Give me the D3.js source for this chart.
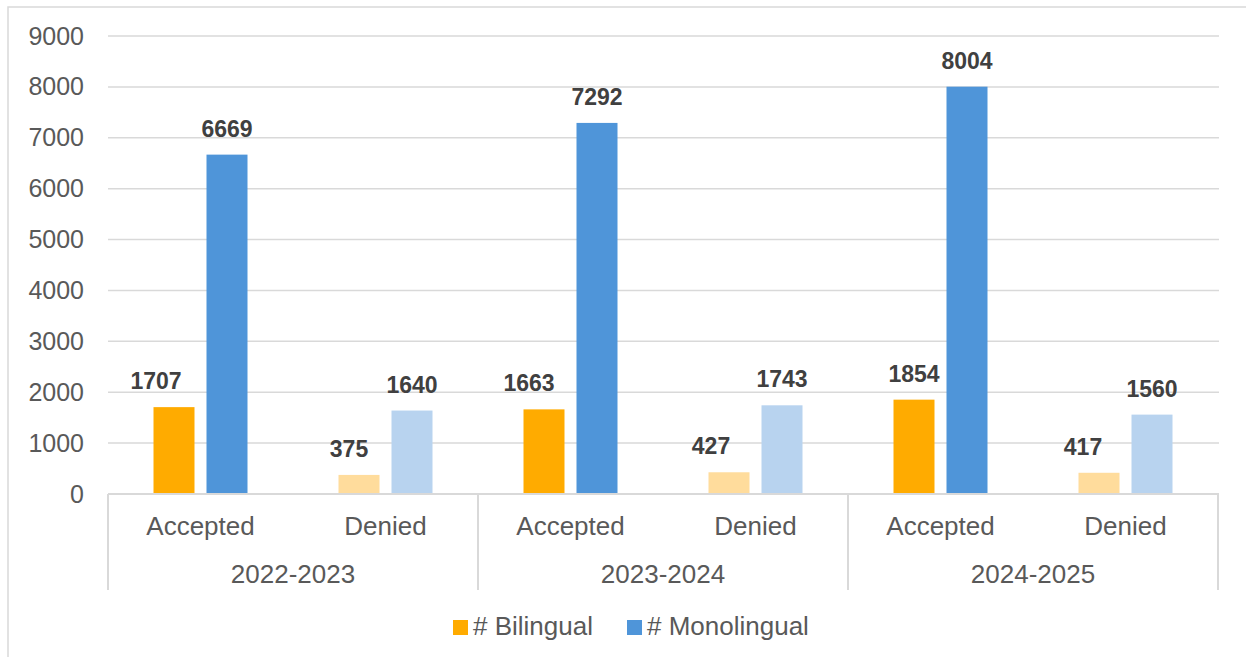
<!DOCTYPE html>
<html>
<head>
<meta charset="utf-8">
<script src="https://cdn.jsdelivr.net/npm/d3@7"></script>
<style>
  html, body { margin: 0; padding: 0; background: #fff; }
  svg { display: block; font-family: Arial, "Liberation Sans", sans-serif; }
</style>
</head>
<body>
<svg id="chart" width="1246" height="657"></svg>
<script>
// ---- data ----
const years = ["2022-2023", "2023-2024", "2024-2025"];
const statuses = ["Accepted", "Denied"];
const series = ["# Bilingual", "# Monolingual"];
// values per year: [Accepted, Denied]
const bilingual = [[1707, 375], [1663, 427], [1854, 417]];
const monolingual = [[6669, 1640], [7292, 1743], [8004, 1560]];
const yTicks = [0, 1000, 2000, 3000, 4000, 5000, 6000, 7000, 8000, 9000];

// ---- styling / layout ----
const colors = {
  "# Bilingual": { Accepted: "#FFAB00", Denied: "#FFDC9C" },
  "# Monolingual": { Accepted: "#4F95D9", Denied: "#B8D3EF" }
};
const legendColors = { "# Bilingual": "#FFAB00", "# Monolingual": "#4F95D9" };
// Excel-style label nudges for the bilingual labels (px), indexed [year][status]
const bilLabelNudge = [[-18, -10], [-15, -18], [0, -16]];

const svg = d3.select("#chart");
const plotLeft = 108, plotRight = 1218, plotTop = 36, plotBottom = 494;

// outer chart border (cropped on right/bottom)
svg.append("path")
  .attr("d", `M8,660 L8,7 L1250,7`)
  .attr("fill", "none").attr("stroke", "#D9D9D9").attr("stroke-width", 1.5);

const y = d3.scaleLinear().domain([0, 9000]).range([plotBottom, plotTop]);

const cats = [];
years.forEach((yr, yi) => statuses.forEach((st, si) => cats.push({ yr, yi, st, si, key: yr + "|" + st })));

const x = d3.scaleBand().domain(cats.map(c => c.key)).range([plotLeft, plotRight]).padding(0);
const xGroup = d3.scaleBand().domain(years).range([plotLeft, plotRight]).padding(0);
const xSub = d3.scaleBand().domain(series).range([0, x.bandwidth()])
  .paddingInner(12 / 53).paddingOuter(0.8585);

// gridlines
svg.append("g").selectAll("line").data(yTicks.filter(t => t > 0)).join("line")
  .attr("x1", plotLeft).attr("x2", plotRight + 1)
  .attr("y1", d => y(d)).attr("y2", d => y(d))
  .attr("stroke", "#D9D9D9").attr("stroke-width", 1.5);

// y axis labels via d3 axis
const yAxis = svg.append("g").attr("transform", `translate(${plotLeft},0)`)
  .call(d3.axisLeft(y).tickValues(yTicks).tickFormat(d3.format("d")).tickSize(0).tickPadding(24));
yAxis.select(".domain").remove();
yAxis.selectAll("text")
  .attr("font-size", 25).attr("fill", "#595959")
  .attr("font-family", "Arial, 'Liberation Sans', sans-serif");

// bars
const barData = [];
cats.forEach(c => {
  barData.push({ c, s: series[0], v: bilingual[c.yi][c.si] });
  barData.push({ c, s: series[1], v: monolingual[c.yi][c.si] });
});

svg.append("g").selectAll("rect").data(barData).join("rect")
  .attr("x", d => x(d.c.key) + xSub(d.s))
  .attr("width", xSub.bandwidth())
  .attr("y", d => y(d.v))
  .attr("height", d => y(0) - y(d.v))
  .attr("fill", d => colors[d.s][d.c.st]);

// data labels
svg.append("g").selectAll("text").data(barData).join("text")
  .attr("x", d => x(d.c.key) + xSub(d.s) + xSub.bandwidth() / 2 +
      (d.s === series[0] ? bilLabelNudge[d.c.yi][d.c.si] : 0))
  .attr("y", d => y(d.v) - 18)
  .attr("text-anchor", "middle")
  .attr("font-size", 23).attr("font-weight", "bold").attr("fill", "#404040")
  .text(d => d.v);

// x axis baseline
svg.append("line")
  .attr("x1", plotLeft).attr("x2", plotRight + 1).attr("y1", plotBottom).attr("y2", plotBottom)
  .attr("stroke", "#D9D9D9").attr("stroke-width", 2);

// group separator lines
const seps = years.map(yr => xGroup(yr)).concat([plotRight]);
svg.append("g").selectAll("line").data(seps).join("line")
  .attr("x1", d => d).attr("x2", d => d)
  .attr("y1", plotBottom).attr("y2", 590)
  .attr("stroke", "#D9D9D9").attr("stroke-width", 2);

// category labels
svg.append("g").selectAll("text").data(cats).join("text")
  .attr("x", d => x(d.key) + x.bandwidth() / 2)
  .attr("y", 535)
  .attr("text-anchor", "middle")
  .attr("font-size", 26).attr("fill", "#595959")
  .text(d => d.st);

// group labels
svg.append("g").selectAll("text").data(years).join("text")
  .attr("x", d => xGroup(d) + xGroup.bandwidth() / 2)
  .attr("y", 583)
  .attr("text-anchor", "middle")
  .attr("font-size", 26).attr("fill", "#595959")
  .text(d => d);

// legend
const legendPos = [453, 627];
const lg = svg.append("g").selectAll("g").data(series).join("g")
  .attr("transform", (d, i) => `translate(${legendPos[i]},620)`);
lg.append("rect").attr("width", 15).attr("height", 15).attr("fill", d => legendColors[d]);
lg.append("text").attr("x", 20).attr("y", 15)
  .attr("font-size", 26).attr("fill", "#595959").text(d => d);
</script>
</body>
</html>
